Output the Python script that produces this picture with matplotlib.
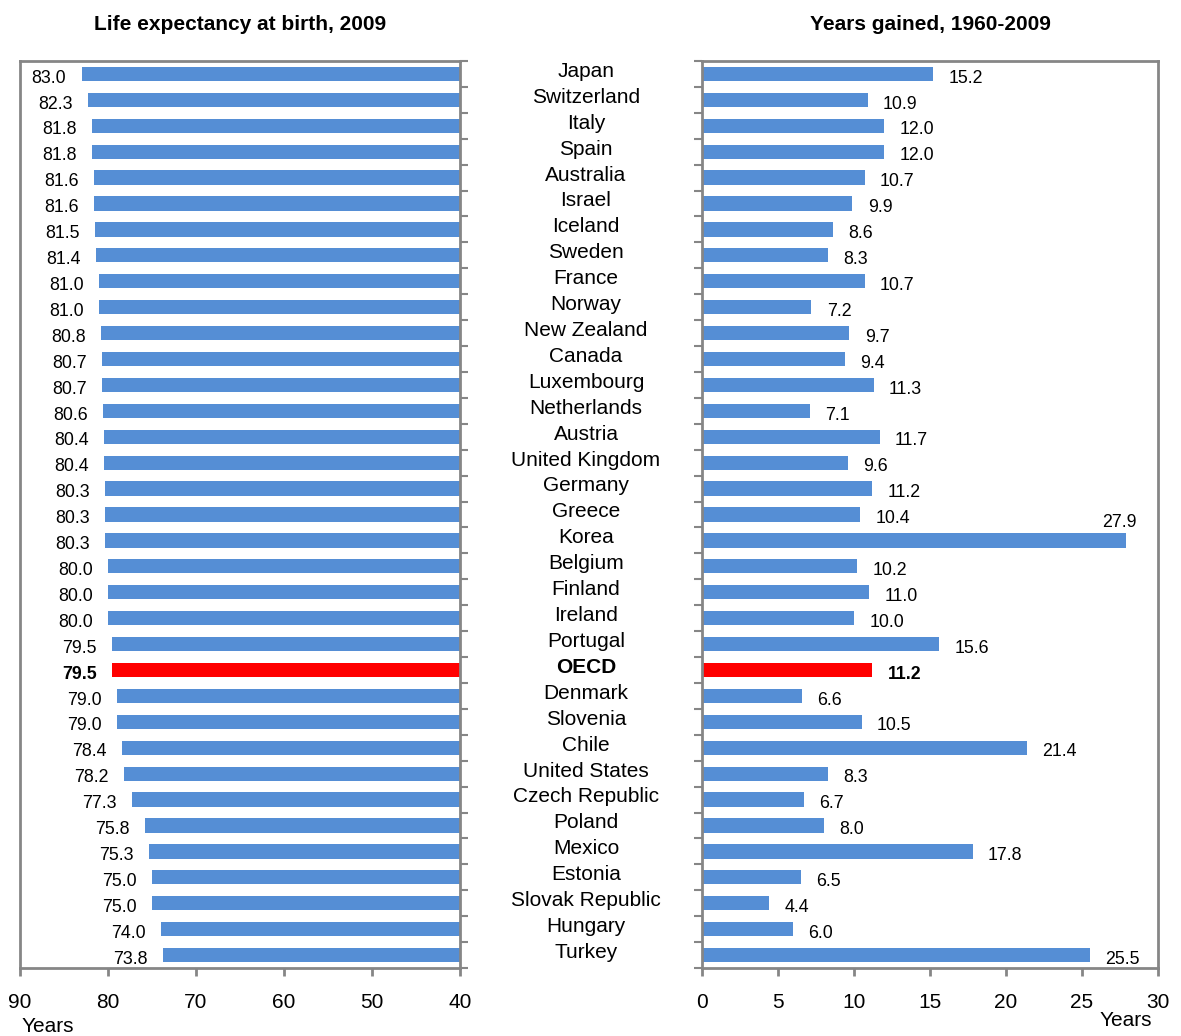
import numpy as np
import matplotlib
matplotlib.use("Agg")
import matplotlib.pyplot as plt
import matplotlib.transforms as mtransforms

plt.rcParams['font.family'] = ['Liberation Sans', 'DejaVu Sans']

countries = ["Japan", "Switzerland", "Italy", "Spain", "Australia", "Israel", "Iceland",
             "Sweden", "France", "Norway", "New Zealand", "Canada", "Luxembourg",
             "Netherlands", "Austria", "United Kingdom", "Germany", "Greece", "Korea",
             "Belgium", "Finland", "Ireland", "Portugal", "OECD", "Denmark", "Slovenia",
             "Chile", "United States", "Czech Republic", "Poland", "Mexico", "Estonia",
             "Slovak Republic", "Hungary", "Turkey"]
life_exp_2009 = [83.0, 82.3, 81.8, 81.8, 81.6, 81.6, 81.5, 81.4, 81.0, 81.0, 80.8, 80.7,
                 80.7, 80.6, 80.4, 80.4, 80.3, 80.3, 80.3, 80.0, 80.0, 80.0, 79.5, 79.5,
                 79.0, 79.0, 78.4, 78.2, 77.3, 75.8, 75.3, 75.0, 75.0, 74.0, 73.8]
years_gained = [15.2, 10.9, 12.0, 12.0, 10.7, 9.9, 8.6, 8.3, 10.7, 7.2, 9.7, 9.4, 11.3,
                7.1, 11.7, 9.6, 11.2, 10.4, 27.9, 10.2, 11.0, 10.0, 15.6, 11.2, 6.6, 10.5,
                21.4, 8.3, 6.7, 8.0, 17.8, 6.5, 4.4, 6.0, 25.5]
left_ticks = [90, 80, 70, 60, 50, 40]
right_ticks = [0, 5, 10, 15, 20, 25, 30]

BLUE = '#558ED5'
RED = '#FF0000'
GRAY = '#868686'

n = len(countries)
pos = np.arange(n)
colors = [RED if c == "OECD" else BLUE for c in countries]
bounds = np.arange(n + 1) - 0.5

fig = plt.figure(figsize=(11.81, 10.36), dpi=100)
ax1 = fig.add_axes([20 / 1181, 1 - 968 / 1036, 440 / 1181, 907 / 1036])
ax2 = fig.add_axes([702 / 1181, 1 - 968 / 1036, 456 / 1181, 907 / 1036])


def style_frame(ax):
    for s in ax.spines.values():
        s.set_color(GRAY)
        s.set_linewidth(2)
    ax.tick_params(axis='x', direction='out', length=6, width=2, color=GRAY,
                   labelsize=15, pad=12)
    ax.tick_params(axis='y', direction='out', length=6, width=1.5, color=GRAY,
                   labelleft=False, labelright=False)
    ax.set_yticks(bounds)
    ax.set_ylim(n - 0.5, -0.5)


# left panel: life expectancy, axis running 90 -> 40
vals1 = np.array(life_exp_2009)
ax1.barh(pos, vals1 - 40, left=40, height=0.55, color=colors, zorder=2)
ax1.set_xlim(90, 40)
ax1.set_xticks(left_ticks)
style_frame(ax1)
ax1.yaxis.tick_right()
ax1.tick_params(axis='y', labelright=False)
for i, v in enumerate(life_exp_2009):
    bold = countries[i] == "OECD"
    ax1.annotate(f"{v:.1f}", (v, i), xytext=(-11, -3), textcoords='offset points',
                 ha='right', va='center', fontsize=12.8,
                 fontweight='bold' if bold else 'normal')
ax1.set_title("Life expectancy at birth, 2009", fontsize=15, fontweight='bold', pad=22)

# right panel: years gained since 1960
ax2.barh(pos, years_gained, height=0.55, color=colors, zorder=2)
ax2.set_xlim(0, 30)
ax2.set_xticks(right_ticks)
style_frame(ax2)
for i, v in enumerate(years_gained):
    bold = countries[i] == "OECD"
    if v > 27:
        # no room beside the bar, put it on top
        ax2.annotate(f"{v:.1f}", (v, i), xytext=(-5, 13), textcoords='offset points',
                     ha='center', va='center', fontsize=12.8)
    else:
        ax2.annotate(f"{v:.1f}", (v, i), xytext=(11, -3), textcoords='offset points',
                     ha='left', va='center', fontsize=12.8,
                     fontweight='bold' if bold else 'normal')
ax2.set_title("Years gained, 1960-2009", fontsize=15, fontweight='bold', pad=22)

# country names between the panels
trans = mtransforms.blended_transform_factory(fig.transFigure, ax2.transData)
for i, c in enumerate(countries):
    ax2.text(586 / 1181, i - 0.1, c, transform=trans, ha='center', va='center',
             fontsize=15, fontweight='bold' if c == "OECD" else 'normal',
             clip_on=False)

fig.text(22 / 1181, 1 - 1026 / 1036, "Years", ha='left', va='center', fontsize=15)
fig.text(1152 / 1181, 1 - 1020 / 1036, "Years", ha='right', va='center', fontsize=15)

fig.savefig("out.png", dpi=100)
